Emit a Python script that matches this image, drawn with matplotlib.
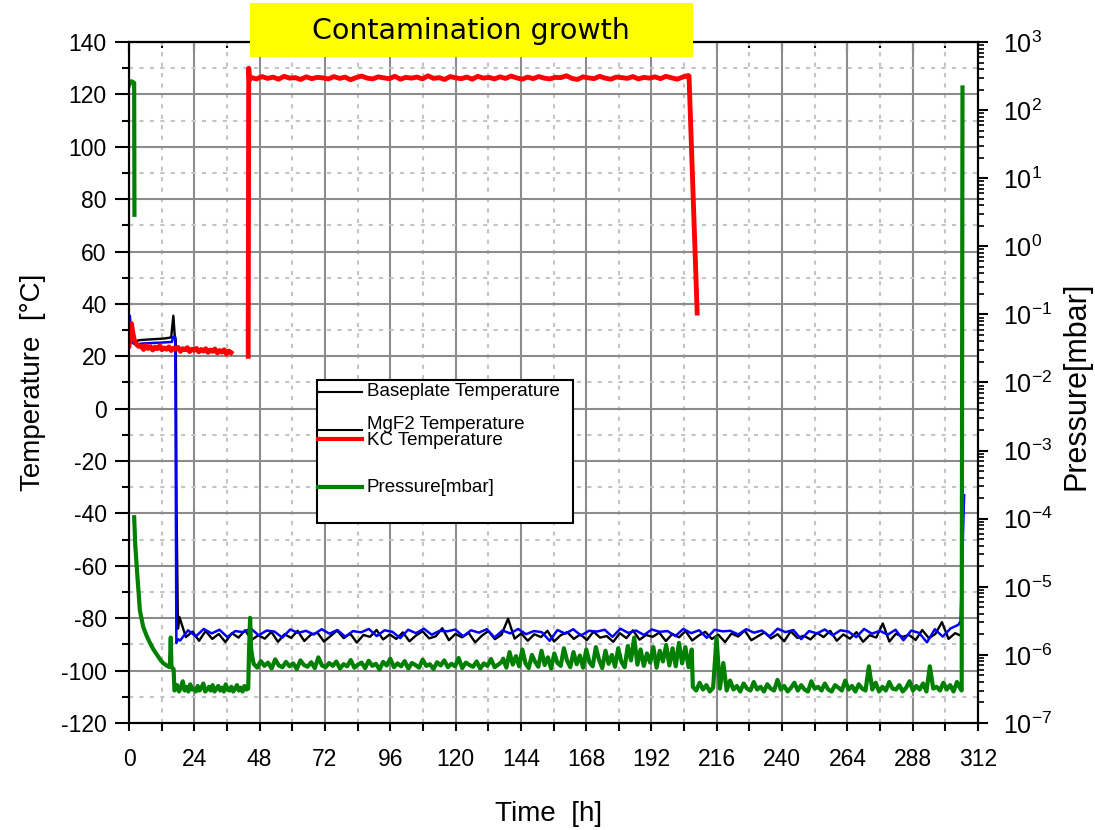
import numpy as np
import matplotlib
matplotlib.use('Agg')
import matplotlib.pyplot as plt
from matplotlib.ticker import MultipleLocator, LogLocator, LogFormatterSciNotation, NullFormatter
from matplotlib.patches import Rectangle
from matplotlib.lines import Line2D

plt.rcParams['font.family'] = ['Liberation Sans', 'DejaVu Sans']
plt.rcParams['mathtext.default'] = 'regular'
plt.rcParams['axes.unicode_minus'] = False

#%% data (time in h, temperature in C, pressure in mbar)
x_ticks = list(range(0, 313, 24))

# baseplate temperature (black)
base_t_start = [0, 0.4, 1.0, 1.6, 2.5, 4, 7, 10, 13, 15.5, 16.3, 16.8, 17.2, 17.5, 18.0]
base_v_start = [30.0, 33.0, 28.0, 25.5, 25.8, 26.2, 26.4, 26.6, 26.8, 27.2, 35.5, 28.0, 26.0, -40.0, -84.0]
base_cold = [-79.5, -87.2, -85.1, -88.6, -84.9, -87.9, -86.0, -89.1, -85.7, -87.4,
             -84.6, -88.3, -86.5, -87.8, -85.2, -89.0, -86.1, -87.5, -84.8, -88.7,
             -86.3, -85.5, -88.9, -86.8, -84.7, -87.6, -85.9, -89.3, -86.4, -87.1,
             -84.5, -88.1, -86.2, -87.9, -85.4, -88.8, -86.6, -85.0, -87.7, -86.9,
             -83.8, -88.4, -86.0, -87.3, -85.6, -89.2, -86.7, -84.9, -88.0, -86.3,
             -80.2, -87.8, -85.8, -88.6, -86.1, -87.2, -84.8, -88.9, -86.5, -85.3,
             -87.9, -86.2, -88.3, -85.1, -87.4, -86.8, -89.0, -85.7, -87.6, -84.6,
             -88.2, -86.4, -87.1, -85.5, -88.7, -86.0, -87.3, -84.9, -88.5, -86.6,
             -85.2, -87.9, -86.3, -89.1, -85.8, -87.0, -84.7, -88.4, -86.9, -85.4,
             -87.7, -86.1, -88.8, -85.0, -87.5, -86.7, -88.1, -85.6, -87.2, -84.8,
             -88.6, -86.2, -87.8, -85.3, -89.0, -86.5, -87.4, -82.0, -88.9, -85.9,
             -87.1, -86.4, -88.3, -84.5, -87.6, -86.0, -81.5, -87.9, -85.7, -86.8]
base_cold_span = (18.5, 306.0)

# MgF2 temperature (blue)
mgf2_t_start = [0, 0.3, 0.8, 1.5, 2.5, 5, 9, 13, 15.8, 16.2, 17.0, 17.4, 18.0]
mgf2_v_start = [29.0, 35.5, 30.0, 25.0, 24.5, 24.9, 25.1, 25.3, 25.5, 27.5, 27.2, -89.5, -88.0]
mgf2_cold = [-88.5, -84.6, -86.9, -84.1, -85.8, -84.4, -87.2, -84.9, -85.3, -84.0,
             -86.5, -84.7, -85.1, -87.4, -84.3, -85.6, -84.8, -86.2, -84.2, -85.9,
             -84.5, -87.0, -84.9, -85.4, -84.1, -86.8, -84.6, -85.2, -87.6, -84.4,
             -85.7, -84.0, -86.3, -84.8, -85.0, -84.3, -86.9, -84.6, -85.5, -84.2,
             -87.3, -84.7, -85.8, -84.1, -86.1, -84.9, -85.3, -88.6, -84.5, -85.9,
             -84.2, -86.6, -84.8, -85.1, -84.4, -87.1, -84.0, -85.6, -84.7, -86.4,
             -84.3, -85.2, -84.9, -86.8, -84.1, -85.7, -84.6, -87.5, -84.4, -85.0,
             -84.8, -86.2, -84.2, -85.5, -84.7, -86.9, -84.0, -85.3, -84.5, -88.0,
             -84.9, -85.8, -84.3, -86.5, -84.6, -85.1, -87.2, -84.1, -85.9, -84.8,
             -86.3, -84.4, -88.4, -84.7, -85.6, -89.2, -84.2, -87.0, -83.9, -82.5]
mgf2_cold_span = (18.8, 304.8)
mgf2_t_end = [305.6, 306.9]
mgf2_v_end = [-81.0, -33.0]

# KC temperature (red), two runs
kc_t_start = [0, 0.4, 0.9, 1.4, 2.0, 2.8, 3.6]
kc_v_start = [24.0, 26.5, 32.5, 29.0, 26.0, 24.5, 23.8]
kc_room = [23.9, 22.6, 24.1, 23.0, 23.7, 22.4, 23.5, 22.9, 24.0, 22.5,
           23.2, 22.7, 23.6, 22.2, 23.1, 22.8, 23.4, 21.9, 22.9, 22.5,
           23.3, 21.8, 22.7, 22.3, 23.0, 21.7, 22.6, 22.0, 22.9, 21.5,
           22.4, 21.9, 22.8, 21.3, 22.2, 21.6, 22.5, 20.9, 22.0, 21.4]
kc_room_span = (4.5, 37.5)
kc_t_up = [43.8, 44.0, 44.3]
kc_v_up = [20.0, 130.0, 125.5]
kc_hot = [126.5, 125.9, 126.8, 126.1, 126.6, 125.8, 126.9, 126.2, 126.4, 125.7,
          126.7, 126.0, 126.5, 126.3, 125.9, 126.8, 126.1, 126.6, 125.6, 126.4,
          127.0, 126.2, 125.9, 126.7, 126.3, 126.0, 126.9, 125.8, 126.5, 126.2,
          126.6, 125.9, 127.1, 126.1, 126.4, 125.7, 126.8, 126.3, 126.0, 126.6,
          125.8, 126.9, 126.2, 126.5, 125.9, 126.7, 126.1, 127.0, 126.3, 125.8,
          126.6, 126.0, 126.8, 126.2, 125.9, 126.5, 126.4, 127.1, 126.1, 125.7,
          126.7, 126.3, 126.0, 126.9, 126.2, 125.8, 126.6, 126.4, 126.1, 126.8,
          125.9, 126.5, 126.2, 126.7, 126.0, 126.9, 126.3, 125.8, 126.6, 127.2]
kc_hot_span = (44.8, 205.5)
kc_t_down = [205.8, 208.8]
kc_v_down = [127.0, 36.5]

# pressure (green)
p_t_vent = [0, 0.8, 1.5, 1.9, 2.0]
p_v_vent = [230, 265, 258, 250, 2.9]
p_t_pump = [1.9, 2.3, 3.0, 4.0, 5.2, 6.5, 7.7, 9.0, 10.3, 11.5, 12.5, 14.0, 15.0, 15.35, 15.6, 16.0, 16.4, 16.7]
p_v_pump = [1.05e-4, 4.1e-5, 1.6e-5, 4.5e-6, 2.6e-6, 1.9e-6, 1.5e-6, 1.2e-6, 1.0e-6, 8.5e-7,
            7.6e-7, 6.9e-7, 6.6e-7, 1.8e-6, 6.8e-7, 6.4e-7, 6.2e-7, 3.0e-7]
p_cold = [3.1e-7, 3.6e-7, 2.9e-7, 3.3e-7, 4.1e-7, 3.0e-7, 3.4e-7, 2.9e-7, 3.7e-7, 3.1e-7,
          3.2e-7, 2.9e-7, 3.5e-7, 3.0e-7, 3.3e-7, 3.8e-7, 2.9e-7, 3.1e-7, 3.4e-7, 3.0e-7,
          3.6e-7, 2.9e-7, 3.2e-7, 3.5e-7, 3.0e-7, 3.3e-7, 2.9e-7, 3.7e-7, 3.1e-7, 3.0e-7,
          3.4e-7, 2.9e-7, 3.2e-7, 3.6e-7, 3.0e-7, 3.3e-7, 2.9e-7, 3.5e-7, 3.1e-7, 3.2e-7]
p_cold_span = (17.0, 43.8)
p_t_jump = [44.1, 44.5, 44.9, 45.3]
p_v_jump = [1.1e-6, 3.5e-6, 1.2e-6, 9.5e-7]
p_hot1 = [7.4e-7, 6.5e-7, 8.1e-7, 6.9e-7, 7.7e-7, 6.3e-7, 8.6e-7, 7.0e-7, 6.6e-7, 7.9e-7,
          6.8e-7, 7.5e-7, 6.2e-7, 8.3e-7, 7.1e-7, 6.7e-7, 7.8e-7, 6.4e-7, 9.2e-7, 7.0e-7,
          6.6e-7, 7.6e-7, 6.9e-7, 8.0e-7, 6.3e-7, 7.3e-7, 6.8e-7, 8.4e-7, 6.5e-7, 7.2e-7,
          7.7e-7, 6.4e-7, 8.2e-7, 6.9e-7, 7.4e-7, 6.1e-7, 7.9e-7, 7.0e-7, 8.8e-7, 6.6e-7,
          7.5e-7, 6.8e-7, 8.1e-7, 6.3e-7, 7.6e-7, 7.1e-7, 6.5e-7, 8.5e-7, 6.9e-7, 7.3e-7,
          6.2e-7, 7.8e-7, 7.0e-7, 8.3e-7, 6.6e-7, 7.4e-7, 6.8e-7, 9.0e-7, 6.4e-7, 7.7e-7,
          7.1e-7, 6.7e-7, 8.0e-7, 6.3e-7, 7.5e-7, 6.9e-7, 8.7e-7, 6.6e-7, 7.2e-7, 7.9e-7]
p_hot1_span = (45.8, 137.0)
p_hot2 = [8.8e-7, 6.5e-7, 1.1e-6, 7.2e-7, 9.6e-7, 6.8e-7, 1.2e-6, 7.5e-7, 6.4e-7, 1.0e-6,
          7.9e-7, 6.7e-7, 1.15e-6, 7.1e-7, 9.2e-7, 6.3e-7, 1.05e-6, 7.6e-7, 6.9e-7, 1.25e-6,
          8.2e-7, 6.6e-7, 1.1e-6, 7.3e-7, 9.8e-7, 6.5e-7, 1.2e-6, 7.8e-7, 6.8e-7, 1.3e-6,
          8.5e-7, 6.4e-7, 1.15e-6, 7.4e-7, 1.0e-6, 6.7e-7, 1.25e-6, 7.9e-7, 6.6e-7, 1.35e-6,
          8.3e-7, 1.8e-6, 7.2e-7, 1.2e-6, 6.9e-7, 1.05e-6, 7.7e-7, 1.3e-6, 6.5e-7, 1.15e-6,
          8.0e-7, 1.4e-6, 7.0e-7, 1.25e-6, 6.8e-7, 1.5e-6, 7.5e-7, 1.3e-6, 6.6e-7, 1.2e-6]
p_hot2_span = (137.5, 206.8)
p_after = [3.4e-7, 3.0e-7, 3.9e-7, 3.1e-7, 3.6e-7, 2.9e-7, 3.3e-7, 1.8e-6, 3.2e-7, 7.6e-7,
           3.0e-7, 4.2e-7, 3.1e-7, 3.5e-7, 2.9e-7, 3.8e-7, 3.2e-7, 3.0e-7, 4.0e-7, 3.1e-7,
           3.4e-7, 2.9e-7, 3.7e-7, 3.2e-7, 3.0e-7, 4.3e-7, 3.1e-7, 3.5e-7, 2.9e-7, 3.3e-7,
           3.9e-7, 3.0e-7, 3.6e-7, 3.1e-7, 2.9e-7, 4.1e-7, 3.2e-7, 3.4e-7, 3.0e-7, 3.8e-7,
           3.1e-7, 2.9e-7, 3.6e-7, 3.3e-7, 3.0e-7, 4.2e-7, 3.1e-7, 3.5e-7, 2.9e-7, 3.7e-7,
           3.2e-7, 3.0e-7, 6.8e-7, 3.1e-7, 3.9e-7, 2.9e-7, 3.4e-7, 3.0e-7, 4.0e-7, 3.2e-7,
           3.1e-7, 3.6e-7, 2.9e-7, 3.3e-7, 4.1e-7, 3.0e-7, 3.5e-7, 3.1e-7, 3.8e-7, 2.9e-7,
           6.8e-7, 3.2e-7, 3.4e-7, 3.0e-7, 3.9e-7, 3.1e-7, 3.6e-7, 2.9e-7, 4.0e-7, 3.2e-7]
p_after_span = (207.2, 305.5)
p_t_end = [306.0, 306.3]
p_v_end = [3.0e-7, 215]

#%% assemble series
def grid_t(span, vals):
    return np.linspace(span[0], span[1], len(vals))

base_t = np.concatenate([base_t_start, grid_t(base_cold_span, base_cold)])
base_v = np.concatenate([base_v_start, base_cold])
mgf2_t = np.concatenate([mgf2_t_start, grid_t(mgf2_cold_span, mgf2_cold), mgf2_t_end])
mgf2_v = np.concatenate([mgf2_v_start, mgf2_cold, mgf2_v_end])
kc_t1 = np.concatenate([kc_t_start, grid_t(kc_room_span, kc_room)])
kc_v1 = np.concatenate([kc_v_start, kc_room])
kc_t2 = np.concatenate([kc_t_up, grid_t(kc_hot_span, kc_hot), kc_t_down])
kc_v2 = np.concatenate([kc_v_up, kc_hot, kc_v_down])
p_t2 = np.concatenate([p_t_pump, grid_t(p_cold_span, p_cold), p_t_jump,
                       grid_t(p_hot1_span, p_hot1), grid_t(p_hot2_span, p_hot2),
                       grid_t(p_after_span, p_after), p_t_end])
p_v2 = np.concatenate([p_v_pump, p_cold, p_v_jump, p_hot1, p_hot2, p_after, p_v_end])

#%% figure
W, H = 1095, 830
fig = plt.figure(figsize=(W / 100, H / 100), dpi=100)
ax = fig.add_axes([129 / W, 107 / H, 849 / W, 681 / H])

ax.plot(base_t, base_v, color='black', lw=1.7)
ax.plot(mgf2_t, mgf2_v, color='blue', lw=1.8)
ax.plot(kc_t1, kc_v1, color='red', lw=3.5)
ax.plot(kc_t2, kc_v2, color='red', lw=3.5)

ax.set_xlim(0, 312)
ax.set_ylim(-120, 140)
ax.set_xticks(x_ticks)
ax.xaxis.set_minor_locator(MultipleLocator(12))
ax.yaxis.set_major_locator(MultipleLocator(20))
ax.yaxis.set_minor_locator(MultipleLocator(10))
ax.grid(which='major', color='#8c8c8c', lw=1.5)
ax.grid(which='minor', color='#c4c4c4', lw=1.5, ls=(0, (2, 3)))
ax.set_axisbelow(True)
ax.tick_params(axis='x', which='both', direction='out', length=6, width=1.5,
               labelsize=16.5, pad=12)
ax.tick_params(axis='y', which='major', direction='out', length=10, width=1.5,
               labelsize=16.5, pad=6)
ax.tick_params(axis='y', which='minor', direction='out', length=5, width=1.5)
for s in ax.spines.values():
    s.set_linewidth(1.5)

top = ax.secondary_xaxis('top')
top.set_xticks(x_ticks)
top.xaxis.set_minor_locator(MultipleLocator(12))
top.tick_params(which='major', direction='in', length=7, width=1.5, labeltop=False)
top.tick_params(which='minor', direction='in', length=4, width=1.5)
top.spines['top'].set_linewidth(1.5)

ax2 = ax.twinx()
ax2.plot(p_t_vent, p_v_vent, color='green', lw=3)
ax2.plot(p_t2, p_v2, color='green', lw=3)
ax2.set_yscale('log')
ax2.set_ylim(1e-7, 1e3)
ax2.yaxis.set_major_locator(LogLocator(base=10, numticks=15))
ax2.yaxis.set_major_formatter(LogFormatterSciNotation())
ax2.yaxis.set_minor_locator(LogLocator(base=10, subs=np.arange(2, 10), numticks=15))
ax2.yaxis.set_minor_formatter(NullFormatter())
ax2.tick_params(which='major', direction='out', length=7, width=1.5, labelsize=18, pad=11)
ax2.tick_params(which='minor', direction='out', length=4, width=1.2)
for s in ax2.spines.values():
    s.set_linewidth(1.5)

# axis titles
fig.text(33 / W, 1 - 382 / H, 'Temperature  [°C]', rotation=90, ha='center', va='center', fontsize=20)
fig.text(1076 / W, 1 - 386 / H, 'Pressure[mbar]', rotation=90, ha='center', va='center', fontsize=22)
fig.text(549 / W, 1 - 821 / H, 'Time  [h]', ha='center', va='baseline', fontsize=20)

# title box
fig.add_artist(Rectangle((250 / W, 1 - 57 / H), 443 / W, 54 / H, transform=fig.transFigure,
                         facecolor='#ffff00', edgecolor='none', zorder=5))
fig.text(471 / W, 1 - 31 / H, 'Contamination growth', ha='center', va='center',
         fontsize=20.5, family='DejaVu Sans', zorder=6)

# legend box
fig.add_artist(Rectangle((317 / W, 1 - 523 / H), 256 / W, 143 / H, transform=fig.transFigure,
                         facecolor='white', edgecolor='black', lw=1.5, zorder=5))
leg_rows = [
    ('Baseplate Temperature', 'black', 1.5, 392, 392),
    ('MgF2 Temperature', 'black', 1.5, 430, 424),
    ('KC Temperature', 'red', 3, 439, 440),
    ('Pressure[mbar]', 'green', 3, 487, 487),
]
for label, col, lw, yl, yt in leg_rows:
    fig.add_artist(Line2D([318 / W, 362 / W], [1 - yl / H, 1 - yl / H], transform=fig.transFigure,
                          color=col, lw=lw, zorder=6))
    fig.text(367 / W, 1 - yt / H, label, ha='left', va='center', fontsize=13.5, zorder=6)

fig.savefig('out.png', dpi=100)
